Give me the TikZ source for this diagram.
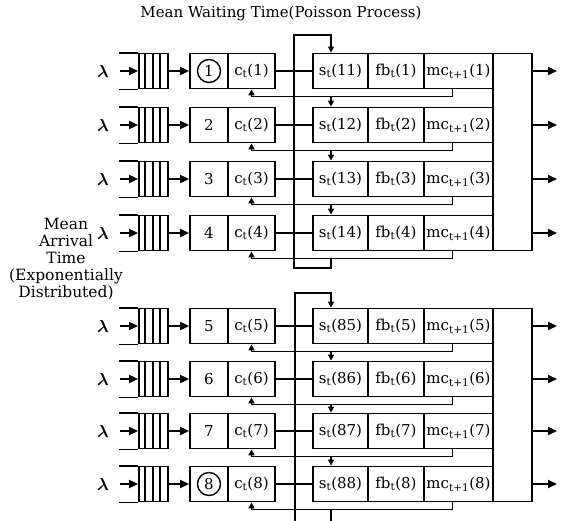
\documentclass[tikz,border=0pt]{standalone}
\usepackage{amsmath}
\usepackage{fontspec}
\setmainfont{DejaVu Serif}
\usetikzlibrary{arrows.meta}
\begin{document}
\begin{tikzpicture}[x=1pt,y=-1pt,line width=1.8pt,
  txt/.style={font=\fontsize{15}{17}\selectfont},
  cell/.style={draw, rectangle, minimum height=35pt, inner sep=0pt, txt},
  tip/.style={-{Triangle[length=9pt,width=8pt]}},
  stip/.style={-{Triangle[length=6pt,width=6pt]}},
  numc/.style={circle, draw, minimum size=23pt, inner sep=0pt, line width=1.4pt},
  nump/.style={},
]
\useasboundingbox (0,0) rectangle (562,520);
\clip (0,0) rectangle (562,520);
\node[font=\fontsize{15}{17}\selectfont] (title) at (281,13) {Mean Waiting Time(Poisson Process)};
\node[font=\fontsize{15.5}{17}\selectfont, align=center] (lbl) at (66,259) {Mean\\Arrival\\Time\\(Exponentially\\Distributed)};
% right frames
\node[draw, minimum width=39pt, minimum height=197pt, inner sep=0pt] (R1) at (512.5,152) {};
\node[draw, minimum width=39pt, minimum height=193pt, inner sep=0pt] (R2) at (512.5,405) {};
\foreach \n/\y/\s/\g/\cs in {1/71/11/1/numc, 2/125/12/1/nump, 3/179/13/1/nump, 4/233/14/1/nump,
                            5/326/85/2/nump, 6/379/86/2/nump, 7/431/87/2/nump, 8/484/88/2/numc} {
  \node[font=\fontsize{18}{18}\selectfont] (lam\n) at (103,\y) {$\boldsymbol{\lambda}$};
  \coordinate (in\n) at (120,\y);
  \node[draw, minimum width=29pt, minimum height=35pt, inner sep=0pt] (q\n) at (153.5,\y) {};
  \draw (q\n.north west) -- ++(-19,0) (q\n.south west) -- ++(-19,0);
  \foreach \xx in {7.25,14.5,21.75} \draw ([xshift=\xx pt]q\n.north west) -- ([xshift=\xx pt]q\n.south west);
  \draw[tip] (in\n) -- (q\n.west);
  \node[cell, minimum width=38pt] (n\n) at (209,\y) {};
  \node[txt,\cs] (num\n) at (n\n.center) {\n};
  \node[cell, minimum width=47pt] (c\n) at (251.5,\y) {c\textsubscript{t}(\n)};
  \draw[tip] (q\n.east) -- (n\n.west);
  \node[cell, minimum width=55pt] (s\n) at (340.5,\y) {s\textsubscript{t}(\s)};
  \node[cell, minimum width=56pt] (f\n) at (396,\y) {fb\textsubscript{t}(\n)};
  \node[cell, minimum width=69pt] (m\n) at (458.5,\y) {mc\textsubscript{t+1}(\n)};
  \draw (c\n.east) -- (s\n.west);
  \coordinate (out\n) at (557,\y);
  \draw[tip] (m\n.east -| R\g.east) -- (out\n);
  \coordinate (j\n) at (331,{\y+24.5});
  \draw[stip] ([xshift=-6pt]m\n.south) -- ++(0,7) -| (c\n.south);
}
\foreach \n/\m in {1/2,2/3,3/4,5/6,6/7,7/8}
  \draw[stip] (j\n) -- (j\n |- s\m.north);
\coordinate (bt1) at (294,35);
\coordinate (bb1) at (294,268);
\draw[stip] (j4) |- (bb1) -- (bt1) -| (j4 |- s1.north);
\coordinate (bt2) at (295,293);
\coordinate (bb2) at (295,530);
\draw[stip] (j8) |- (bb2) -- (bt2) -| (j8 |- s5.north);
\end{tikzpicture}
\end{document}
